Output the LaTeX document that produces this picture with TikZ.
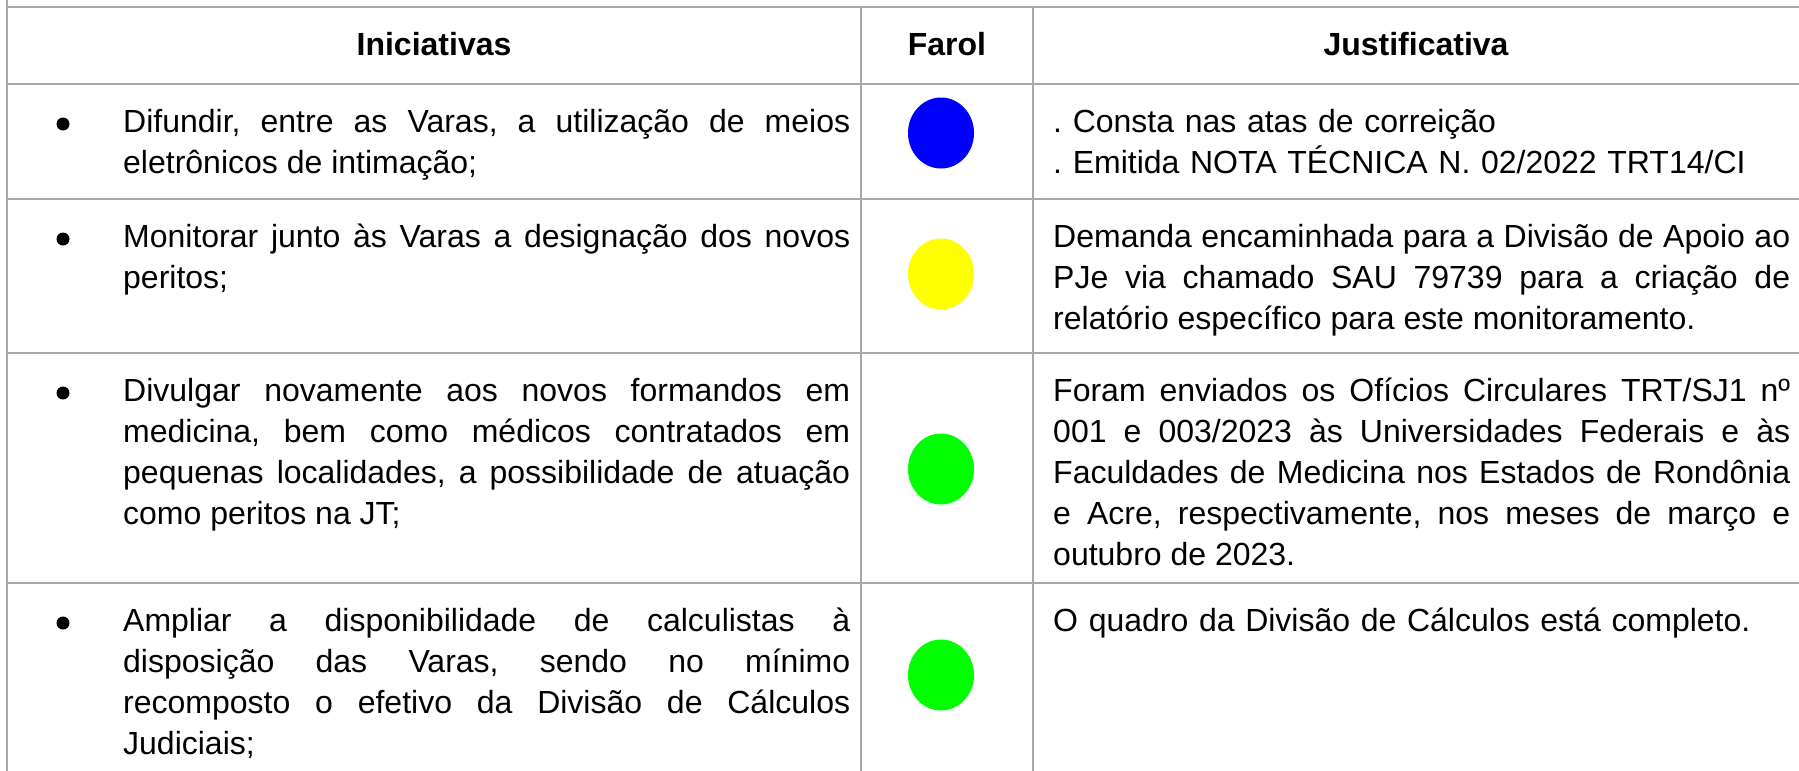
\documentclass[tikz,border=0pt]{standalone}
\usepackage{fontspec}
\setmainfont{Liberation Sans}
\usetikzlibrary{shapes.geometric}
\definecolor{gridgray}{RGB}{168,168,168}
\definecolor{farolblue}{RGB}{0,0,255}
\definecolor{farolyellow}{RGB}{255,255,0}
\definecolor{farolgreen}{RGB}{0,255,0}
\frenchspacing
\tikzset{
  rule/.style={draw=gridgray, line width=2pt},
  head/.style={anchor=base, inner sep=0pt, font=\fontsize{32}{41}\selectfont\bfseries},
  initext/.style={anchor=base west, inner sep=0pt, text width=727pt, align=justify, font=\fontsize{32}{41}\selectfont},
  justext/.style={anchor=base west, inner sep=0pt, text width=737pt, align=justify, font=\fontsize{32}{41}\selectfont},
  dot/.style={circle, fill=black, inner sep=0pt, minimum size=13pt},
  farol/.style={ellipse, inner sep=0pt, minimum width=66pt, minimum height=71pt}
}
\begin{document}
\begin{tikzpicture}[x=1pt, y=-1pt]
        \useasboundingbox (0,0) rectangle (1799,771);
        % grid
        \draw[rule] (7,0) -- (7,771);
        \foreach \x in {861,1033} \draw[rule] (\x,7) -- (\x,771);
        \foreach \y in {7,84,199,353,583} \draw[rule] (7,\y) -- (1799,\y);
        % header
        \node[head] (hini) at (434,55) {Iniciativas};
        \node[head] (hfar) at (947,55) {Farol};
        \node[head] (hjus) at (1416,55) {Justificativa};
        % bullets
        \node[dot] (b1) at (63,124) {};
        \node[dot] (b2) at (63,239) {};
        \node[dot] (b3) at (63,393) {};
        \node[dot] (b4) at (63,623) {};
        % initiatives
        \node[initext] (i1) at (123,132) {Difundir, entre as Varas, a utilização de meios\linebreak eletrônicos de intimação;};
        \node[initext] (i2) at (123,247) {Monitorar junto às Varas a designação dos novos\linebreak peritos;};
        \node[initext] (i3) at (123,401) {Divulgar novamente aos novos formandos em\linebreak medicina, bem como médicos contratados em\linebreak pequenas localidades, a possibilidade de atuação\linebreak como peritos na JT;};
        \node[initext] (i4) at (123,631) {Ampliar a disponibilidade de calculistas à\linebreak disposição das Varas, sendo no mínimo\linebreak recomposto o efetivo da Divisão de Cálculos\linebreak Judiciais;};
        % lights
        \node[farol, fill=farolblue] (f1) at (941,133) {};
        \node[farol, fill=farolyellow] (f2) at (941,274) {};
        \node[farol, fill=farolgreen] (f3) at (941,469) {};
        \node[farol, fill=farolgreen] (f4) at (941,675) {};
        % justifications
        \node[justext, align=left] (j1) at (1053,132) {. Consta nas atas de correição\\. Emitida NOTA TÉCNICA N. 02/2022 TRT14/CI};
        \node[justext] (j2) at (1053,247) {Demanda encaminhada para a Divisão de Apoio ao\linebreak PJe via chamado SAU 79739 para a criação de\linebreak relatório específico para este monitoramento.};
        \node[justext] (j3) at (1053,401) {Foram enviados os Ofícios Circulares TRT/SJ1 nº\linebreak 001 e 003/2023 às Universidades Federais e às\linebreak Faculdades de Medicina nos Estados de Rondônia\linebreak e Acre, respectivamente, nos meses de março e\linebreak outubro de 2023.};
        \node[justext, align=left] (j4) at (1053,631) {O quadro da Divisão de Cálculos está completo.};
\end{tikzpicture}
\end{document}
